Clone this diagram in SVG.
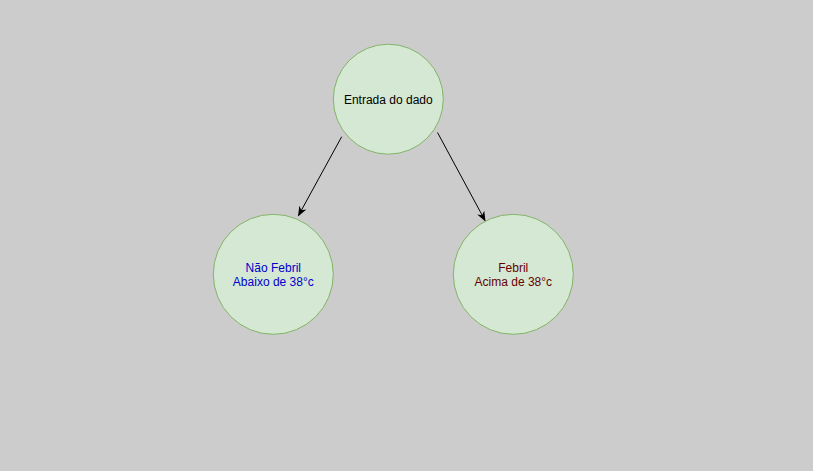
<svg xmlns="http://www.w3.org/2000/svg" width="813" height="471" viewBox="0 0 813 471">
<style>
.node{fill:#d5e8d4;stroke:#82b366;stroke-width:1}
.lbl{font-family:"Liberation Sans",Arial,sans-serif;font-size:12px;text-anchor:middle}
.edge{stroke:#000;stroke-width:1;fill:none}
</style>
<defs>
<marker id="arr" viewBox="0 0 10 8" refX="9" refY="4" markerWidth="10" markerHeight="8" markerUnits="userSpaceOnUse" orient="auto">
<path d="M0,0 L10,4 L0,8 L3,4 Z" fill="#000"/>
</marker>
</defs>
<rect width="813" height="471" fill="#cccccc"/>
<g id="connectors">
<line class="edge" x1="341.7" y1="136.7" x2="298.5" y2="215.5" marker-end="url(#arr)"/>
<line class="edge" x1="437.5" y1="132.5" x2="485" y2="220.5" marker-end="url(#arr)"/>
</g>
<g id="entrada">
<circle class="node" cx="388.3" cy="99.2" r="55"/>
<text class="lbl" x="388.3" y="103.5" fill="#000">Entrada do dado</text>
</g>
<g id="nao-febril">
<circle class="node" cx="273.3" cy="274.3" r="60"/>
<text class="lbl" x="273.3" y="271.5" fill="#0000cc">Não Febril</text>
<text class="lbl" x="273.3" y="286" fill="#0000cc">Abaixo de 38°c</text>
</g>
<g id="febril">
<circle class="node" cx="513.3" cy="274.3" r="60"/>
<text class="lbl" x="513.3" y="271.5" fill="#660000">Febril</text>
<text class="lbl" x="513.3" y="286" fill="#660000">Acima de 38°c</text>
</g>
</svg>
